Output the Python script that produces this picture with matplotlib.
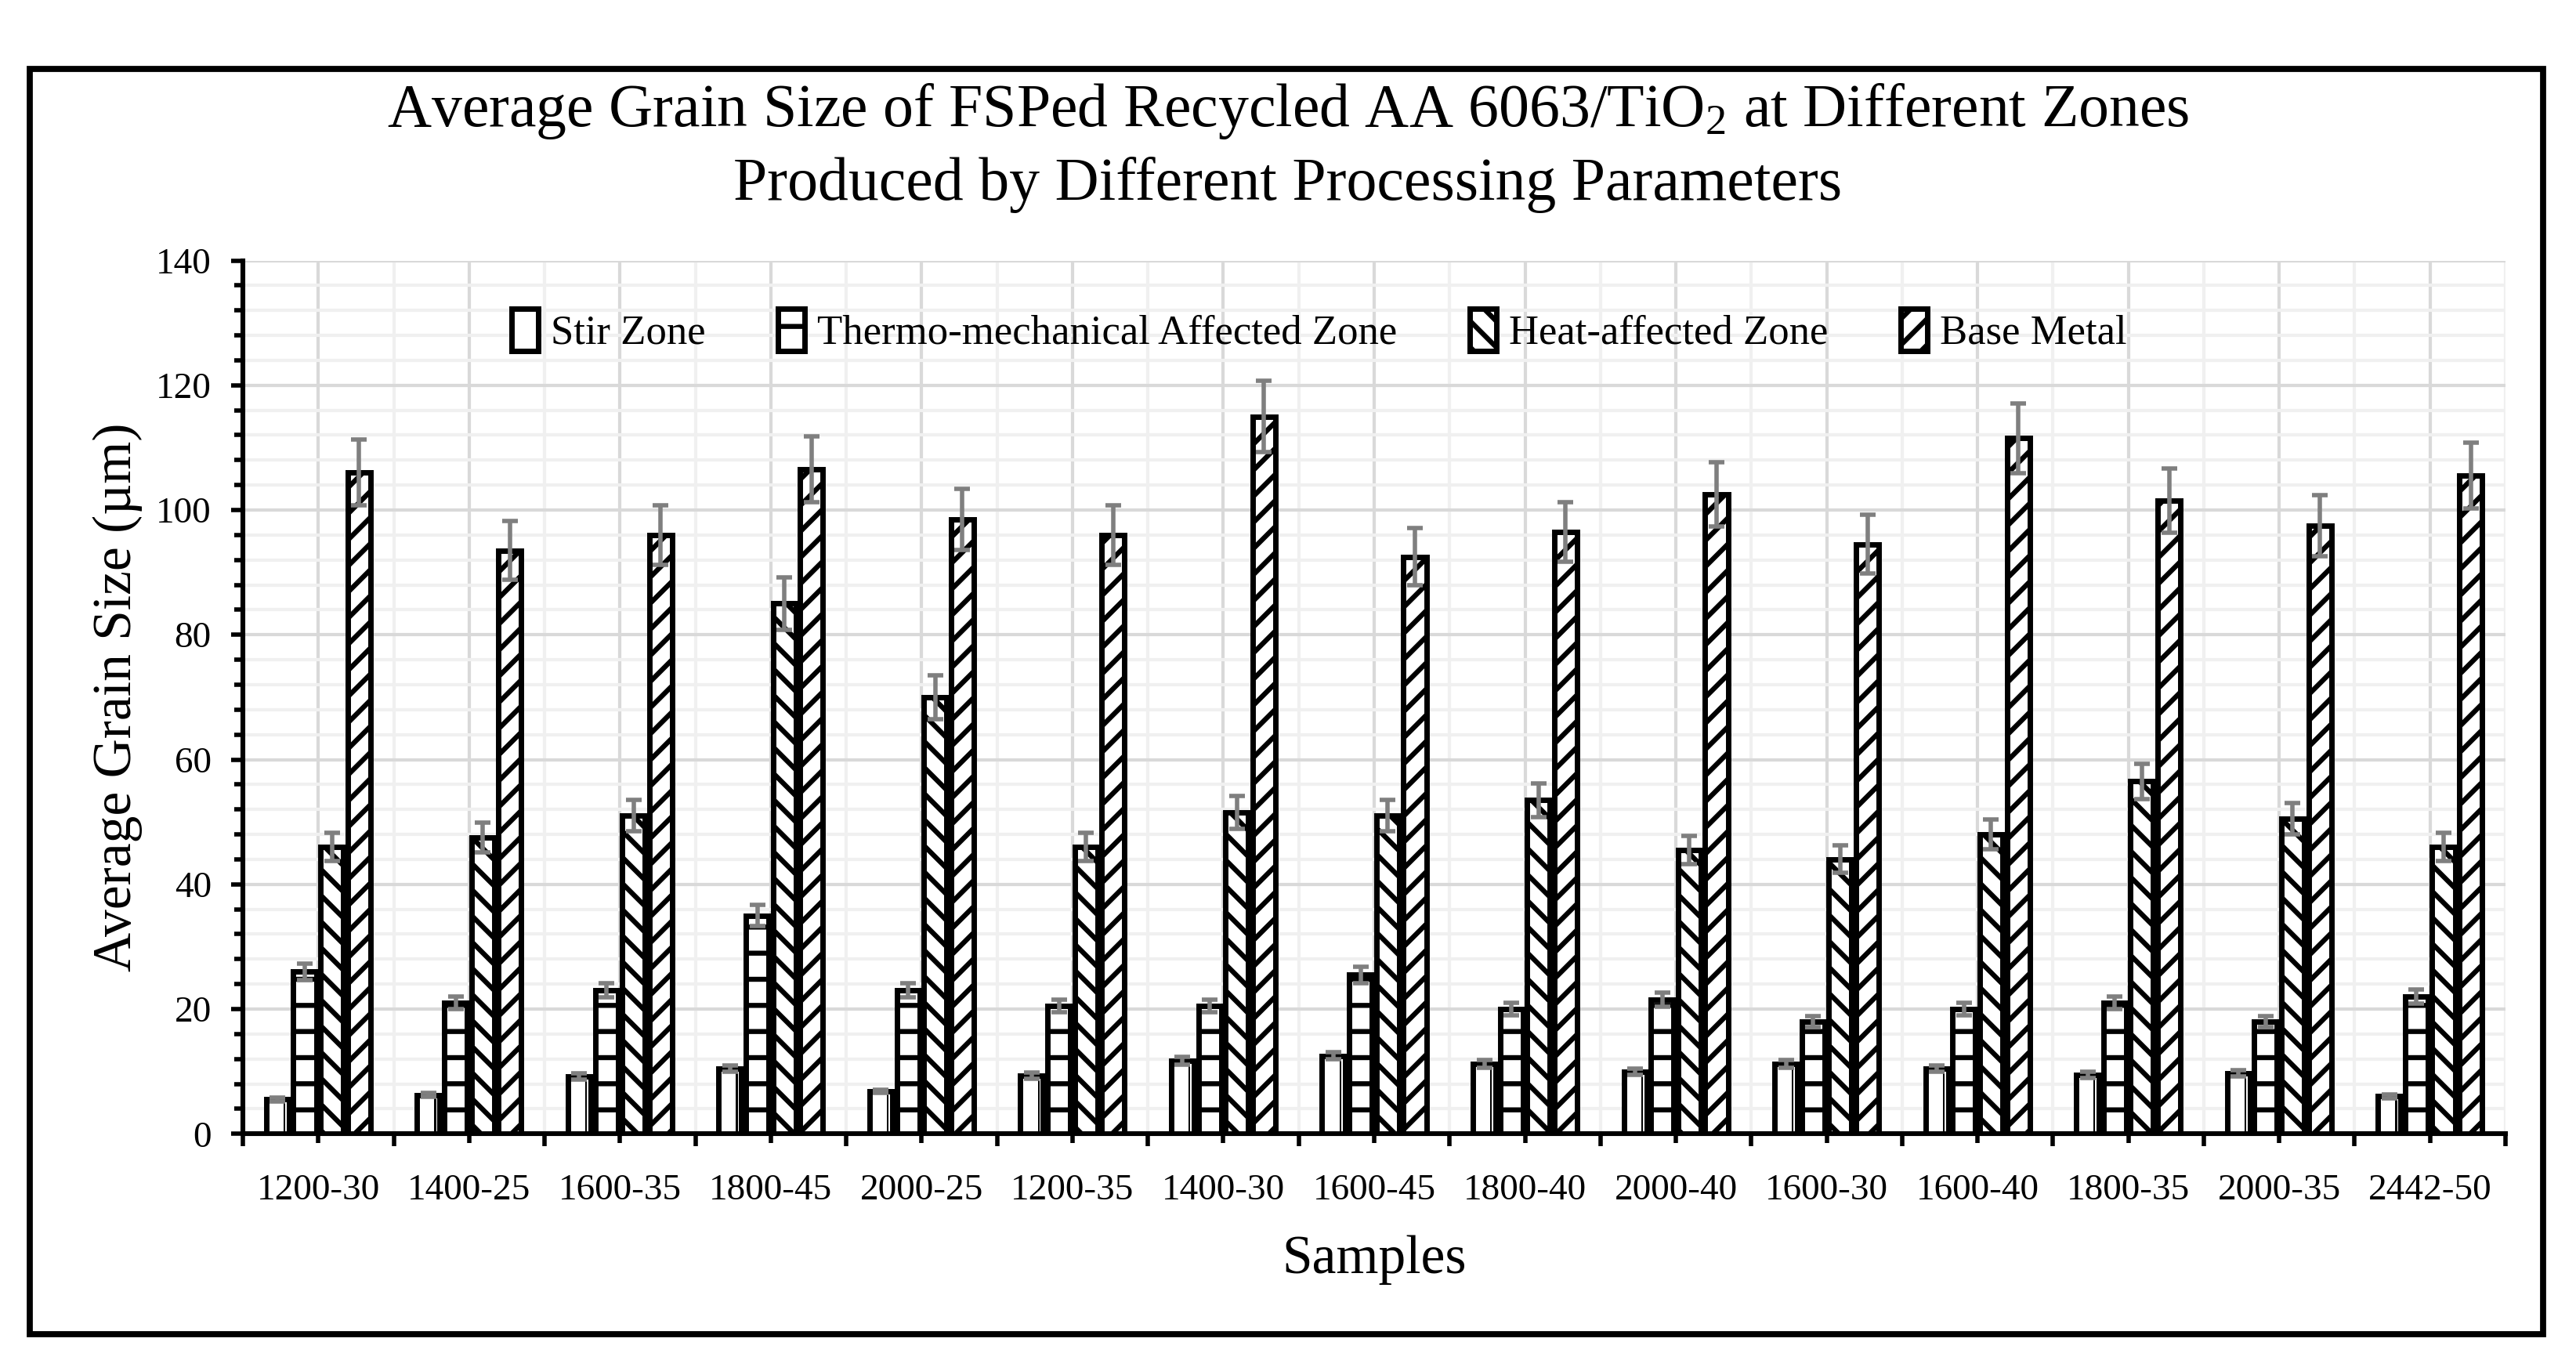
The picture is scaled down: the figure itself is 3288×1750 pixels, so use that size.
import matplotlib
matplotlib.use('Agg')
import matplotlib.pyplot as plt
import numpy as np
from matplotlib.patches import Rectangle

samples = ['1200-30', '1400-25', '1600-35', '1800-45', '2000-25', '1200-35', '1400-30',
           '1600-45', '1800-40', '2000-40', '1600-30', '1600-40', '1800-35', '2000-35', '2442-50']

stir_zone = [5.5, 6.2, 9.2, 10.5, 6.8, 9.3, 11.7, 12.5, 11.2, 10.0, 11.2, 10.5, 9.5, 9.7, 6.0]
tmaz = [26.0, 21.0, 23.0, 35.0, 23.0, 20.5, 20.5, 25.5, 20.0, 21.5, 18.0, 20.0, 21.0, 18.0, 22.0]
haz = [46.0, 47.5, 51.0, 85.0, 70.0, 46.0, 51.5, 51.0, 53.5, 45.5, 44.0, 48.0, 56.5, 50.5, 46.0]
base_metal = [106.0, 93.5, 96.0, 106.5, 98.5, 96.0, 115.0, 92.5, 96.5, 102.5, 94.5, 111.5, 101.5, 97.5, 105.5]

sz_err = [0.3, 0.3, 0.5, 0.5, 0.3, 0.5, 0.6, 0.6, 0.6, 0.5, 0.6, 0.5, 0.5, 0.5, 0.3]
tmaz_err = [1.3, 1.0, 1.1, 1.7, 1.1, 1.0, 1.0, 1.3, 1.0, 1.1, 0.9, 1.0, 1.0, 0.9, 1.1]
haz_err = [2.3, 2.4, 2.5, 4.2, 3.5, 2.3, 2.6, 2.5, 2.7, 2.3, 2.2, 2.4, 2.8, 2.5, 2.3]
bm_err = [5.3, 4.7, 4.8, 5.3, 4.9, 4.8, 5.7, 4.6, 4.8, 5.1, 4.7, 5.6, 5.1, 4.9, 5.3]

plt.rcParams['font.family'] = ['Liberation Serif', 'DejaVu Serif']
plt.rcParams['mathtext.fontset'] = 'custom'
plt.rcParams['mathtext.rm'] = 'Liberation Serif'
plt.rcParams['hatch.linewidth'] = 2.3
plt.rcParams['hatch.color'] = 'black'

fig = plt.figure(figsize=(16.44, 8.75), dpi=200)
ax = fig.add_axes([0.0943, 0.173, 0.8783, 0.637])

x = np.arange(len(samples))
w = 0.151
step = 0.18
ecol = '#7f7f7f'
ekw = dict(ecolor=ecol, elinewidth=2, capsize=3.5, capthick=2)

ax.bar(x - 1.5 * step, stir_zone, w, color='white', edgecolor='black', linewidth=2.5,
       yerr=sz_err, error_kw=ekw, label='Stir Zone', zorder=3)
ax.bar(x - 1.5 * step + 0.3 * w, stir_zone, 0.012, color='black', zorder=3)
ax.bar(x - 0.5 * step, tmaz, w, color='white', edgecolor='black', linewidth=2.5, hatch='-',
       yerr=tmaz_err, error_kw=ekw, label='Thermo-mechanical Affected Zone', zorder=3)
ax.bar(x + 0.5 * step, haz, w, color='white', edgecolor='black', linewidth=2.5, hatch='\\\\',
       yerr=haz_err, error_kw=ekw, label='Heat-affected Zone', zorder=3)
ax.bar(x + 1.5 * step, base_metal, w, color='white', edgecolor='black', linewidth=2.5, hatch='//',
       yerr=bm_err, error_kw=ekw, label='Base Metal', zorder=3)

ax.set_xlim(-0.5, len(samples) - 0.5)
ax.set_ylim(0, 140)
ax.set_yticks(np.arange(0, 141, 20))
ax.set_yticks(np.arange(0, 141, 4), minor=True)
ax.set_xticks(x)
ax.set_xticklabels(samples)
ax.set_xticks(np.arange(-0.5, len(samples)), minor=True)

ax.grid(which='major', color='#d9d9d9', linewidth=1.5, zorder=0)
ax.grid(which='minor', color='#f0f0f0', linewidth=1.5, zorder=0)
ax.set_axisbelow(True)

for s in ['top', 'right']:
    ax.spines[s].set_visible(False)
for s in ['left', 'bottom']:
    ax.spines[s].set_linewidth(2.2)

ax.tick_params(axis='y', which='major', length=5.5, width=2, direction='out', labelsize=17, pad=9)
ax.tick_params(axis='y', which='minor', length=4, width=2, direction='out')
ax.tick_params(axis='x', which='major', length=4.3, width=2, direction='out', labelsize=17, pad=14)
ax.tick_params(axis='x', which='minor', length=5.8, width=2, direction='out')

ax.set_ylabel('Average Grain Size (µm)', fontsize=25, labelpad=6)
ax.set_xlabel('Samples', fontsize=25, labelpad=13)

fig.text(0.5, 0.919, 'Average Grain Size of FSPed Recycled AA 6063/TiO$\\mathregular{_2}$ at Different Zones',
         ha='center', va='center', fontsize=28)
fig.text(0.5, 0.865, 'Produced by Different Processing Parameters', ha='center', va='center', fontsize=28)

fig.legend(loc='center', bbox_to_anchor=(0.512, 0.759), ncol=4, frameon=False, fontsize=19,
           handlelength=0.65, handleheight=1.2, handletextpad=0.3, columnspacing=1.75)

fig.patches.append(Rectangle((0.0116, 0.0269), 0.9756, 0.9228, transform=fig.transFigure,
                             fill=False, edgecolor='black', linewidth=2.8))

fig.savefig('out.png', dpi=200)
